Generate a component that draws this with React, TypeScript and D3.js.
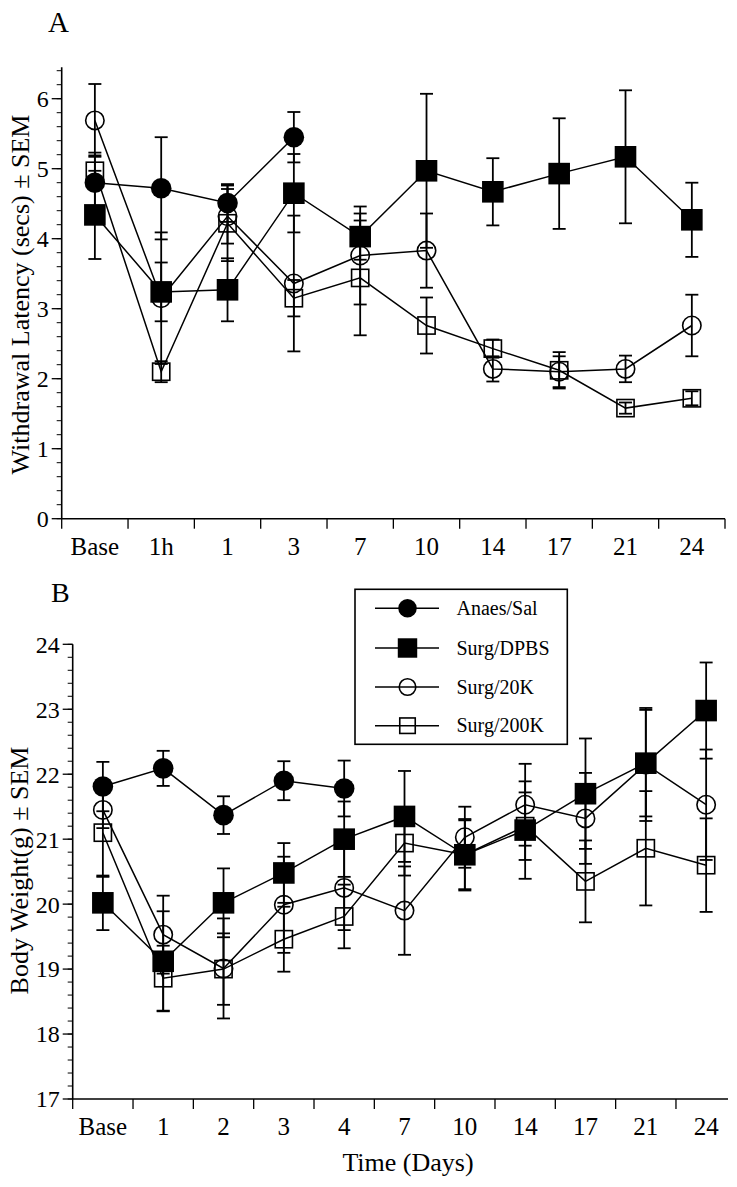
import React from "react";
import * as d3 from "d3";

// ---------- data ----------
const catsA = ["Base", "1h", "1", "3", "7", "10", "14", "17", "21", "24"];
const aAnaes = [4.8, 4.72, 4.51, 5.45];
const aAnaesErr = [0.43, 0.73, 0.27, 0.36];
const aDpbs = [4.34, 3.24, 3.27, 4.65, 4.03, 4.97, 4.67, 4.93, 5.17, 4.27];
const aDpbsErr = [0.63, 0.42, 0.45, 0.56, 0.33, 1.1, 0.48, 0.79, 0.95, 0.53];
const a20k = [5.69, 3.15, 4.32, 3.36, 3.76, 3.83, 2.14, 2.1, 2.14, 2.76];
const a20kErr = [0.52, 0.94, 0.39, 0.97, 0.7, 0.53, 0.18, 0.22, 0.19, 0.44];
const a200k = [4.97, 2.1, 4.22, 3.15, 3.44, 2.76, 2.43, 2.12, 1.58, 1.72];
const a200kErr = [0.22, 0.15, 0.54, 0.26, 0.82, 0.4, 0.13, 0.26, 0.08, 0.1];
const ticksA = [0, 1, 2, 3, 4, 5, 6];

const catsB = ["Base", "1", "2", "3", "4", "7", "10", "14", "17", "21", "24"];
const bAnaes = [21.81, 22.09, 21.37, 21.9, 21.78];
const bAnaesErr = [0.38, 0.27, 0.29, 0.3, 0.43];
const bDpbs = [20.02, 19.12, 20.02, 20.48, 21.0, 21.35, 20.76, 21.14, 21.7, 22.17, 22.98];
const bDpbsErr = [0.42, 0.77, 0.53, 0.46, 0.58, 0.7, 0.55, 0.75, 0.85, 0.82, 0.74];
const b20k = [21.45, 19.53, 19.01, 19.99, 20.25, 19.9, 21.03, 21.53, 21.32, 22.15, 21.53];
const b20kErr = [0.28, 0.6, 0.77, 0.74, 0.65, 0.68, 0.47, 0.63, 0.7, 0.87, 0.85];
const b200k = [21.1, 18.86, 19.0, 19.46, 19.81, 20.94, 20.76, 21.2, 20.35, 20.86, 20.6];
const b200kErr = [0.68, 0.5, 0.55, 0.5, 0.49, 0.5, 0.53, 0.52, 0.63, 0.88, 0.72];
const ticksB = [17, 18, 19, 20, 21, 22, 23, 24];

const seriesNames = ["Anaes/Sal", "Surg/DPBS", "Surg/20K", "Surg/200K"];
const markerKinds = ["fcircle", "fsquare", "ocircle", "osquare"];

const FONT = "'Liberation Serif', 'Times New Roman', serif";

type Kind = string;

function Marker({ kind, x, y, big }: { kind: Kind; x: number; y: number; big?: boolean }) {
  const s = big === false ? 0.9 : 1;
  if (kind === "fcircle") return <circle cx={x} cy={y} r={10.3 * s} fill="#000" />;
  if (kind === "fsquare") {
    const h = 10.8 * s;
    return <rect x={x - h} y={y - h} width={2 * h} height={2 * h} fill="#000" />;
  }
  if (kind === "ocircle")
    return <circle cx={x} cy={y} r={9.2 * s} fill="none" stroke="#000" strokeWidth={1.6} />;
  const h = 8.6 * s;
  return <rect x={x - h} y={y - h} width={2 * h} height={2 * h} fill="none" stroke="#000" strokeWidth={1.6} />;
}

function Panel({
  cats,
  series,
  errs,
  x0,
  x1,
  axisEnd,
  endTick,
  yDomain,
  yRange,
  ticks,
}: any) {
  const x = d3.scaleBand<string>().domain(cats).range([x0, x1]);
  const bw = x.bandwidth();
  const cx = (i: number) => (x(cats[i]) as number) + bw / 2;
  const y = d3.scaleLinear().domain(yDomain).range(yRange);
  const line = d3
    .line<number>()
    .x((_, i) => cx(i))
    .y((d) => y(d));
  const minor = d3.range(Math.round(yDomain[0] * 5), Math.floor(yDomain[1] * 5 + 1e-6) + 1).map((v) => v / 5);
  const boundaries = cats.map((c: string) => x(c) as number);
  if (endTick) boundaries.push(x1);
  const yBase = yRange[0];
  return (
    <g>
      {/* y axis */}
      <line x1={x0} x2={x0} y1={yRange[0]} y2={yRange[1]} stroke="#000" strokeWidth={1.6} />
      {minor.map((v: number) => (
        <line key={"m" + v} x1={x0 - 5} x2={x0} y1={y(v)} y2={y(v)} stroke="#000" strokeWidth={1} />
      ))}
      {ticks.map((v: number) => (
        <g key={"t" + v}>
          <line x1={x0 - 10} x2={x0} y1={y(v)} y2={y(v)} stroke="#000" strokeWidth={1.3} />
          <text
            x={x0 - 13}
            y={y(v)}
            dy="0.35em"
            textAnchor="end"
            fontSize={24}
            fontFamily={FONT}
          >
            {v}
          </text>
        </g>
      ))}
      {/* x axis */}
      <line x1={x0} x2={axisEnd} y1={yBase} y2={yBase} stroke="#000" strokeWidth={1.6} />
      {boundaries.map((b: number, i: number) => (
        <line key={"b" + i} x1={b} x2={b} y1={yBase} y2={yBase + 10} stroke="#000" strokeWidth={1.3} />
      ))}
      {cats.map((c: string, i: number) => (
        <text key={"c" + c} x={cx(i)} y={yBase + 36} textAnchor="middle" fontSize={25} fontFamily={FONT}>
          {c}
        </text>
      ))}
      {/* error bars */}
      {series.map((vals: number[], si: number) =>
        vals.map((v, i) => {
          const e = errs[si][i];
          const xx = cx(i);
          return (
            <g key={"e" + si + "-" + i} stroke="#000" strokeWidth={1.8}>
              <line x1={xx} x2={xx} y1={y(v + e)} y2={y(v - e)} />
              <line x1={xx - 6.5} x2={xx + 6.5} y1={y(v + e)} y2={y(v + e)} />
              <line x1={xx - 6.5} x2={xx + 6.5} y1={y(v - e)} y2={y(v - e)} />
            </g>
          );
        })
      )}
      {/* lines */}
      {series.map((vals: number[], si: number) => (
        <path key={"l" + si} d={line(vals) as string} fill="none" stroke="#000" strokeWidth={1.5} />
      ))}
      {/* markers */}
      {series.map((vals: number[], si: number) =>
        vals.map((v, i) => <Marker key={"k" + si + "-" + i} kind={markerKinds[si]} x={cx(i)} y={y(v)} />)
      )}
    </g>
  );
}

export default function App() {
  const legendY = [608.3, 648, 687, 725.7];
  return (
    <svg
      width={737}
      height={1187}
      style={{ position: "absolute", left: 0, top: 0, background: "#fff" }}
      fontFamily={FONT}
    >
      <rect x={0} y={0} width={737} height={1187} fill="#fff" />
      <text x={48} y={31.5} fontSize={29} fontFamily={FONT}>
        A
      </text>
      <text x={51} y={601.5} fontSize={28} fontFamily={FONT}>
        B
      </text>

      <Panel
        cats={catsA}
        series={[aAnaes, aDpbs, a20k, a200k]}
        errs={[aAnaesErr, aDpbsErr, a20kErr, a200kErr]}
        x0={61.7}
        x1={725}
        axisEnd={725}
        endTick={true}
        yDomain={[0, 6.45]}
        yRange={[518.7, 67.2]}
        ticks={ticksA}
      />
      <Panel
        cats={catsB}
        series={[bAnaes, bDpbs, b20k, b200k]}
        errs={[bAnaesErr, bDpbsErr, b20kErr, b200kErr]}
        x0={72.7}
        x1={736.3}
        axisEnd={728}
        endTick={false}
        yDomain={[17, 24]}
        yRange={[1099, 644.3]}
        ticks={ticksB}
      />

      {/* axis titles */}
      <text
        transform="translate(28.5,294.5) rotate(-90)"
        textAnchor="middle"
        fontSize={26}
        fontFamily={FONT}
      >
        Withdrawal Latency (secs) ± SEM
      </text>
      <text
        transform="translate(27.5,870.5) rotate(-90)"
        textAnchor="middle"
        fontSize={26}
        fontFamily={FONT}
      >
        Body Weight(g) ± SEM
      </text>
      <text x={408} y={1171} textAnchor="middle" fontSize={26} fontFamily={FONT}>
        Time (Days)
      </text>

      {/* legend */}
      <rect x={355} y={589.3} width={212.3} height={155} fill="#fff" stroke="#000" strokeWidth={1.6} />
      {seriesNames.map((n, i) => (
        <g key={n}>
          <line x1={375} x2={439} y1={legendY[i]} y2={legendY[i]} stroke="#000" strokeWidth={1.5} />
          <Marker kind={markerKinds[i]} x={407.5} y={legendY[i]} big={false} />
          <text x={456.5} y={legendY[i]} dy="0.33em" fontSize={20} fontFamily={FONT}>
            {n}
          </text>
        </g>
      ))}
    </svg>
  );
}
